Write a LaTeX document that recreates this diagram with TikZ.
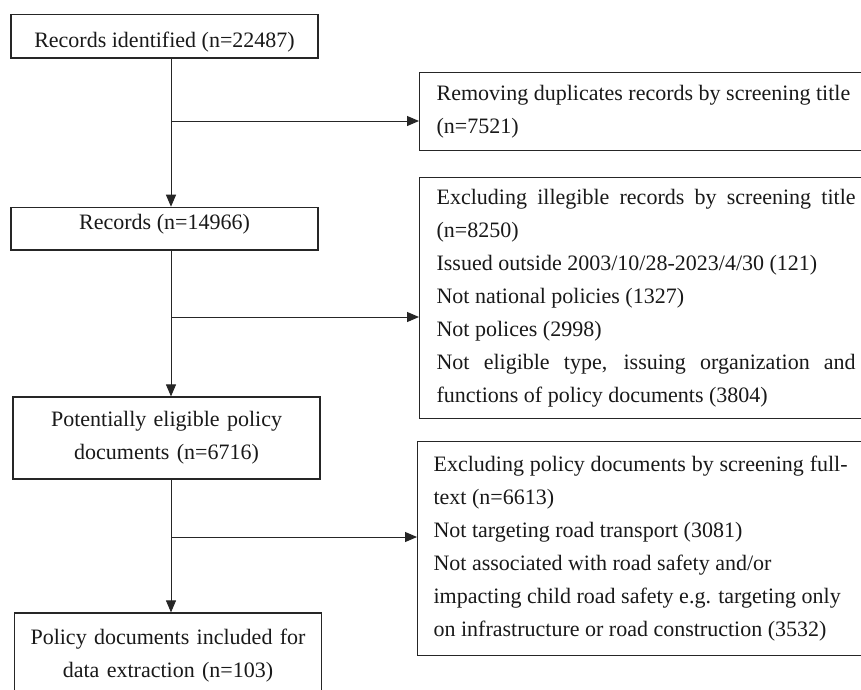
\documentclass[tikz,border=0pt]{standalone}
\usepackage{fontspec}
\setmainfont{Liberation Serif}
\usetikzlibrary{arrows.meta}
\setlength{\parindent}{0pt}
\hyphenpenalty=10000
\begin{document}
\begin{tikzpicture}[x=1pt,y=-1pt,
  font=\fontsize{22}{33}\selectfont,
  every node/.style={text=black!90},
  sbox/.style={draw=black!85, line width=1.2pt, inner xsep=0pt, inner ysep=0pt, anchor=north, minimum width=307pt},
  lbox/.style={draw=black!85, line width=1.2pt, inner sep=0pt, align=center, text width=300pt, minimum width=307pt},
  rbox/.style={draw=black!85, line width=1.2pt, anchor=north west, align=justify, inner ysep=0pt},
  conn/.style={line width=1pt, draw=black!85},
  arr/.style={conn, -{Triangle[length=12pt,width=10pt]}}]
\clip (0,0) rectangle (861,689);
\fill[white] (0,0) rectangle (861,689);
% left column
\node[sbox, text height=32.7pt, text depth=10.6pt] (id) at (164.5,14) {Records identified (n=22487)};
\node[sbox, text height=22.3pt, text depth=20.3pt] (rec) at (164.5,206.7) {Records (n=14966)};
\node[lbox, minimum height=82pt] (pot) at (166.5,438) {Potentially eligible policy\\documents (n=6716)};
\node[lbox, minimum height=86pt] (inc) at (168,656) {Policy documents included for\\data extraction (n=103)};
% right column
\node[rbox, text width=419pt, inner xsep=17pt, minimum height=78pt] (dup) at (419,72)
  {Removing duplicates records by screening title\\(n=7521)};
\node[rbox, text width=419pt, inner xsep=17pt, minimum height=241pt] (ex1) at (419,177)
  {Excluding illegible records by screening title\linebreak (n=8250)\\
   Issued outside 2003/10/28-2023/4/30 (121)\\
   Not national policies (1327)\\
   Not polices (2998)\\
   Not eligible type, issuing organization and\linebreak functions of policy documents (3804)};
\node[rbox, text width=414pt, inner xsep=16pt, minimum height=214pt] (ex2) at (417,441)
  {Excluding policy documents by screening full-\linebreak text (n=6613)\\
   Not targeting road transport (3081)\\
   Not associated with road safety and/or\\
   impacting child road safety e.g. targeting only\\
   on infrastructure or road construction (3532)};
% connectors
\coordinate (spine) at (171,0);
\coordinate (j1) at (171,121);
\coordinate (j2) at (171,317);
\coordinate (j3) at (171,537);
\draw[arr] (id.south -| spine) -- (rec.north -| spine);
\draw[arr] (rec.south -| spine) -- (pot.north -| spine);
\draw[arr] (pot.south -| spine) -- (inc.north -| spine);
\draw[arr] (j1) -- (j1 -| dup.west);
\draw[arr] (j2) -- (j2 -| ex1.west);
\draw[arr] (j3) -- (j3 -| ex2.west);
\end{tikzpicture}
\end{document}
